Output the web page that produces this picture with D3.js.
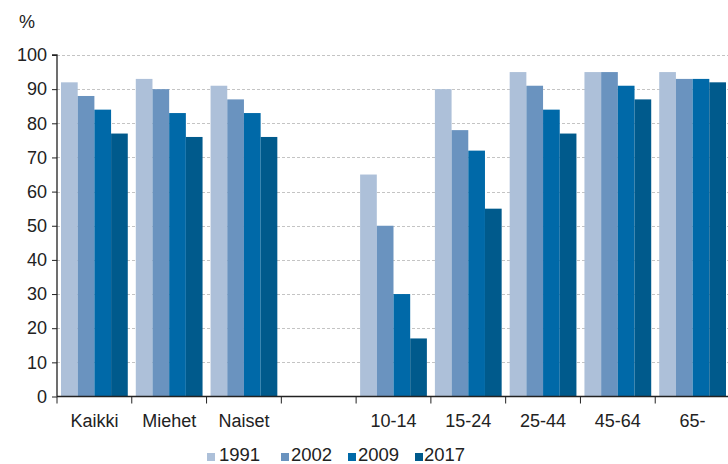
<!DOCTYPE html>
<html><head><meta charset="utf-8">
<script src="https://cdn.jsdelivr.net/npm/d3@7"></script>
<style>body{margin:0;background:#fff}svg{display:block}text{font-family:"Liberation Sans",Arial,sans-serif;fill:#222}</style>
</head><body><svg id="c" width="728" height="464"></svg>
<script>
const categories = ["Kaikki","Miehet","Naiset","","10-14","15-24","25-44","45-64","65-"];
const years = ["1991","2002","2009","2017"];
const v1991 = [92,93,91,null,65,90,95,95,95];
const v2002 = [88,90,87,null,50,78,91,95,93];
const v2009 = [84,83,83,null,30,72,84,91,93];
const v2017 = [77,76,76,null,17,55,77,87,92];
const yTicks = [0,10,20,30,40,50,60,70,80,90,100];
const colors = ["#adc0d9","#6a93bf","#0069a8","#005a8c"];
const series = [v1991,v2002,v2009,v2017];

const svg = d3.select("#c");
const mLeft = 57, mRight = 730, mTop = 55, mBottom = 396.5;
const FS = "18px";
const x = d3.scaleBand().domain(categories.map((c,i)=>i)).range([mLeft,mRight]).paddingInner(0).paddingOuter(0);
const x1 = d3.scaleBand().domain(years).range([0,x.bandwidth()]).paddingOuter(0.24);
const y = d3.scaleLinear().domain([0,100]).range([mBottom,mTop]);

// gridlines
svg.append("g").selectAll("line").data(yTicks.filter(t=>t>0)).join("line")
  .attr("x1",mLeft).attr("x2",mRight).attr("y1",d=>Math.round(y(d))+0.5).attr("y2",d=>Math.round(y(d))+0.5)
  .attr("stroke","#c4c4c4").attr("stroke-dasharray","3,2");

// bars
series.forEach((s,si)=>{
  svg.append("g").selectAll("rect").data(s.map((v,i)=>({v,i})).filter(d=>d.v!=null)).join("rect")
    .attr("x",d=>x(d.i)+x1(years[si]))
    .attr("width",x1.bandwidth())
    .attr("y",d=>y(d.v))
    .attr("height",d=>mBottom-y(d.v))
    .attr("fill",colors[si]);
});

// y axis
const ya = svg.append("g").attr("transform",`translate(${mLeft},0)`)
  .call(d3.axisLeft(y).tickValues(yTicks).tickSize(5).tickPadding(5));
ya.select(".domain").attr("stroke","#222").attr("stroke-width",1.3).attr("d",`M-5,${mTop}H0V${mBottom}`);
ya.selectAll(".tick line").attr("stroke","#222");
ya.selectAll(".tick text").attr("font-size",FS).attr("fill","#222").style("font-family","'Liberation Sans',Arial,sans-serif");

// x axis
const xa = svg.append("g").attr("transform",`translate(0,${mBottom})`);
xa.append("line").attr("x1",mLeft).attr("x2",mRight).attr("stroke","#222").attr("stroke-width",1.3);
xa.selectAll("line.t").data(d3.range(categories.length)).join("line").attr("class","t")
  .attr("x1",i=>x(i)).attr("x2",i=>x(i)).attr("y1",0).attr("y2",7).attr("stroke","#222");
xa.selectAll("text").data(categories).join("text")
  .attr("x",(d,i)=>x(i)+x.bandwidth()/2).attr("y",30).attr("text-anchor","middle")
  .attr("font-size",FS).text(d=>d);

// % label
svg.append("text").attr("x",19).attr("y",28).attr("font-size",FS).text("%");

// legend
const lx = [207,281,348,415];
const tOff = [12,10,10,9];
const lg = svg.append("g");
years.forEach((yr,i)=>{
  lg.append("rect").attr("x",lx[i]).attr("y",453).attr("width",8).attr("height",8).attr("fill",colors[i]);
  lg.append("text").attr("x",lx[i]+tOff[i]).attr("y",461).attr("font-size","18.5px").text(yr);
});
</script></body></html>
